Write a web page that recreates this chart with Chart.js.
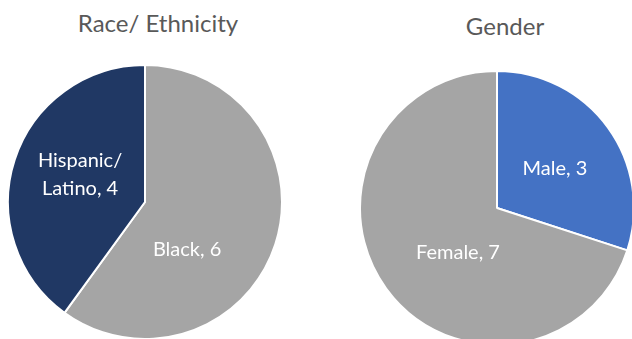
<!DOCTYPE html>
<html>
<head>
<meta charset="utf-8">
<script src="https://cdn.jsdelivr.net/npm/chart.js@4.4.0/dist/chart.umd.min.js"></script>
<style>
  html, body { margin: 0; padding: 0; background: #fff; width: 632px; height: 339px; overflow: hidden; }
  .title { position: absolute; font-family: Lato, sans-serif; font-size: 24px; color: #595959; white-space: nowrap; transform: translateX(-50%); }
  canvas { position: absolute; }
</style>
</head>
<body>
<div class="title" style="left:158px; top:8px;">Race/ Ethnicity</div>
<div class="title" style="left:505px; top:11px;">Gender</div>
<canvas id="raceChart" width="276" height="276" style="left:7px; top:64px;"></canvas>
<canvas id="genderChart" width="276" height="276" style="left:359px; top:70px;"></canvas>
<script>
const raceLabels = ["Black", "Hispanic/ Latino"];
const raceCounts = [6, 4];
const raceColors = ["#A5A5A5", "#203864"];

const genderLabels = ["Male", "Female"];
const genderCounts = [3, 7];
const genderColors = ["#4472C4", "#A5A5A5"];

// "Name, value" labels inside the slices, placed relative to the pie centre
const sliceLabels = {
  id: "sliceLabels",
  afterDatasetsDraw(chart, args, opts) {
    const ctx = chart.ctx;
    const meta = chart.getDatasetMeta(0);
    const data = chart.data.datasets[0].data;
    ctx.save();
    ctx.font = opts.font;
    ctx.fillStyle = "#fff";
    ctx.textAlign = "center";
    ctx.textBaseline = "middle";
    meta.data.forEach((arc, i) => {
      const text = chart.data.labels[i] + ", " + data[i];
      const words = text.split(" ");
      const lines = [];
      let line = "";
      words.forEach(w => {
        const next = line ? line + " " + w : w;
        if (line && ctx.measureText(next).width > opts.maxWidth) {
          lines.push(line);
          line = w;
        } else {
          line = next;
        }
      });
      lines.push(line);
      const r = arc.outerRadius;
      const x = arc.x + opts.offsets[i][0] * r;
      const y = arc.y + opts.offsets[i][1] * r;
      const top = y - (lines.length - 1) * opts.lineHeight / 2;
      lines.forEach((l, j) => ctx.fillText(l, x, top + j * opts.lineHeight));
    });
    ctx.restore();
  }
};

function makePie(id, labels, counts, colors, offsets) {
  return new Chart(document.getElementById(id), {
    type: "pie",
    data: {
      labels: labels,
      datasets: [{
        data: counts,
        backgroundColor: colors,
        borderColor: "#fff",
        borderWidth: 2,
        hoverOffset: 0
      }]
    },
    options: {
      responsive: false,
      animation: false,
      events: [],
      plugins: {
        legend: { display: false },
        tooltip: { enabled: false },
        sliceLabels: {
          font: "20px Lato, sans-serif",
          maxWidth: 110,
          lineHeight: 28,
          offsets: offsets
        }
      }
    },
    plugins: [sliceLabels]
  });
}

makePie("raceChart", raceLabels, raceCounts, raceColors, [[0.307, 0.350], [-0.474, -0.204]]);
makePie("genderChart", genderLabels, genderCounts, genderColors, [[0.423, -0.285], [-0.285, 0.328]]);
</script>
</body>
</html>
